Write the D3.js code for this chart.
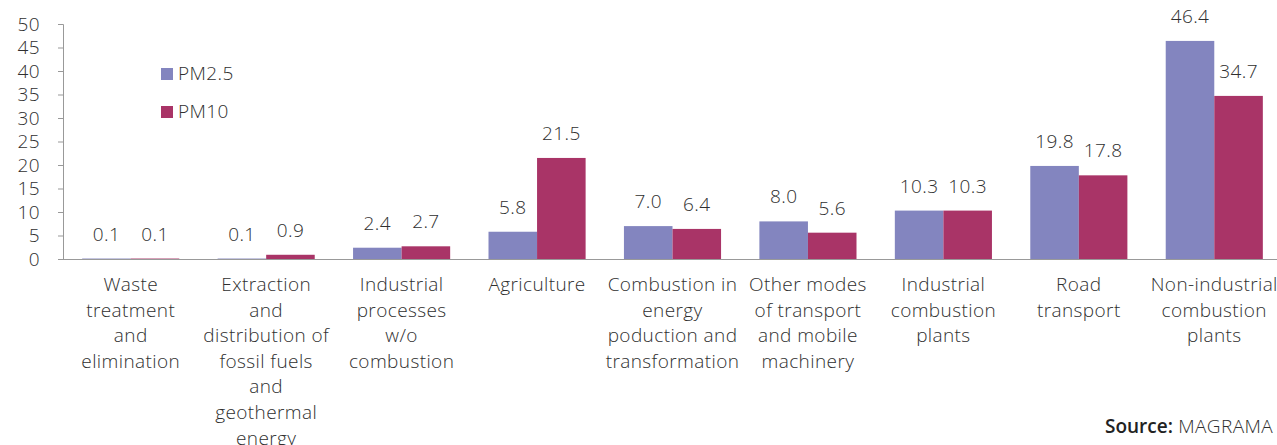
<!DOCTYPE html>
<html><head><meta charset="utf-8">
<script src="https://cdn.jsdelivr.net/npm/d3@7"></script>
<style>
body{margin:0;background:#fff;}
svg text{font-family:"Open Sans",Lato,sans-serif;font-weight:300;fill:#2f2f2f;letter-spacing:0.4px;}
</style></head>
<body><svg id="c" width="1277" height="445"></svg>
<script>
const categories = [
  ["Waste","treatment","and","elimination"],
  ["Extraction","and","distribution of","fossil fuels","and","geothermal","energy"],
  ["Industrial","processes","w/o","combustion"],
  ["Agriculture"],
  ["Combustion in","energy","poduction and","transformation"],
  ["Other modes","of transport","and mobile","machinery"],
  ["Industrial","combustion","plants"],
  ["Road","transport"],
  ["Non-industrial","combustion","plants"]
];
const seriesNames = ["PM2.5","PM10"];
const pm25 = [0.1,0.1,2.4,5.8,7.0,8.0,10.3,19.8,46.4];
const pm10 = [0.1,0.9,2.7,21.5,6.4,5.6,10.3,17.8,34.7];
const yTicks = [0,5,10,15,20,25,30,35,40,45,50];
const colors = ["#8385bf","#a93467"];

(function(){
const svg = d3.select("#c");
const fs = "19px";
const mLeft = 63, mRight = 1282, mTop = 24, mBottom = 259;
const x0 = d3.scaleBand().domain(d3.range(categories.length)).range([mLeft,mRight]).paddingInner(0.283).paddingOuter(0.1415);
const x1 = d3.scaleBand().domain(seriesNames).range([0,x0.bandwidth()]);
const y = d3.scaleLinear().domain([0,50]).range([mBottom,mTop]);
const series = [pm25, pm10];

const yAxis = svg.append("g").attr("transform",`translate(${mLeft},0)`)
  .call(d3.axisLeft(y).tickValues(yTicks).tickSize(5).tickPadding(18));
yAxis.select(".domain").attr("stroke","#999");
yAxis.selectAll(".tick line").attr("stroke","#999");
yAxis.selectAll(".tick text").style("font-size",fs).attr("fill","#2f2f2f")
  .style("font-family","'Open Sans', sans-serif").style("font-weight","300");

series.forEach((vals,si)=>{
  svg.append("g").selectAll("rect").data(vals).join("rect")
    .attr("x",(d,i)=>x0(i)+x1(seriesNames[si]))
    .attr("width",x1.bandwidth())
    .attr("y",d=>y(d))
    .attr("height",d=>mBottom-y(d))
    .attr("fill",colors[si]);
  svg.append("g").selectAll("text").data(vals).join("text")
    .attr("x",(d,i)=>x0(i)+x1(seriesNames[si])+x1.bandwidth()/2)
    .attr("y",d=>y(d)-18)
    .attr("text-anchor","middle")
    .style("font-size",fs)
    .text(d=>d3.format(".1f")(d));
});

svg.append("line").attr("x1",mLeft).attr("x2",1277).attr("y1",mBottom+0.5).attr("y2",mBottom+0.5).attr("stroke","#999");

const cl = svg.append("g");
categories.forEach((lines,i)=>{
  const cx = x0(i)+x0.bandwidth()/2;
  const t = cl.append("text").attr("text-anchor","middle").style("font-size",fs)
    .attr("x",cx).attr("y",291);
  lines.forEach((ln,j)=>t.append("tspan").attr("x",cx).attr("dy",j===0?0:25.6).text(ln));
});

seriesNames.forEach((n,i)=>{
  const g = svg.append("g").attr("transform",`translate(161,${68+i*38})`);
  g.append("rect").attr("width",12).attr("height",12).attr("fill",colors[i]);
  g.append("text").attr("x",17).attr("y",12).style("font-size",fs).text(n);
});

const s = svg.append("text").attr("x",1105).attr("y",433).style("font-size",fs);
s.append("tspan").style("font-weight","600").style("fill","#222").style("letter-spacing","0px").text("Source:");
s.append("tspan").text(" MAGRAMA");
})();
</script></body></html>
